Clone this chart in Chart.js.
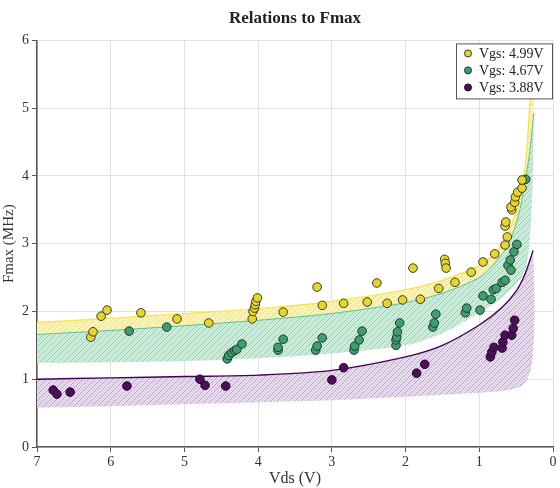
<!DOCTYPE html>
<html>
<head>
<meta charset="utf-8">
<script src="https://cdn.jsdelivr.net/npm/chart.js@4/dist/chart.umd.min.js"></script>
<style>
  html, body { margin: 0; padding: 0; background: #fff; }
</style>
</head>
<body>
<canvas id="fmaxChart" width="560" height="488"></canvas>
<script>
// measured points, [Vds, Fmax]
const pts499 = [
  [6.27, 1.62], [6.24, 1.70], [6.13, 1.93], [6.05, 2.02], [5.59, 1.98], [5.10, 1.89],
  [4.67, 1.83], [4.08, 1.89], [4.07, 2.00], [4.05, 2.05], [4.04, 2.10], [4.03, 2.15],
  [4.01, 2.20], [3.66, 1.99], [3.20, 2.36], [3.13, 2.09], [2.84, 2.12], [2.52, 2.14],
  [2.39, 2.42], [2.25, 2.12], [2.04, 2.17], [1.90, 2.64], [1.80, 2.18], [1.55, 2.34],
  [1.47, 2.77], [1.46, 2.71], [1.45, 2.64], [1.33, 2.43], [1.11, 2.58], [0.95, 2.73],
  [0.79, 2.85], [0.65, 2.98], [0.62, 3.10], [0.65, 3.26], [0.64, 3.32], [0.56, 3.50],
  [0.57, 3.54], [0.52, 3.61], [0.51, 3.69], [0.48, 3.76], [0.42, 3.82], [0.42, 3.94]
];
const pts467 = [
  [5.75, 1.71], [5.24, 1.77], [4.42, 1.30], [4.40, 1.35], [4.36, 1.39], [4.32, 1.42],
  [4.29, 1.44], [4.22, 1.52], [3.73, 1.43], [3.73, 1.47], [3.66, 1.59], [3.22, 1.43],
  [3.20, 1.49], [3.13, 1.61], [2.70, 1.43], [2.69, 1.49], [2.63, 1.58], [2.59, 1.71],
  [2.13, 1.50], [2.13, 1.58], [2.12, 1.62], [2.11, 1.70], [2.08, 1.83], [1.63, 1.77],
  [1.61, 1.83], [1.59, 1.96], [1.19, 1.98], [1.17, 2.05], [0.99, 2.02], [0.95, 2.23],
  [0.84, 2.18], [0.81, 2.32], [0.77, 2.34], [0.69, 2.43], [0.65, 2.46], [0.61, 2.68],
  [0.57, 2.61], [0.58, 2.76], [0.53, 2.88], [0.49, 2.99], [0.37, 3.95]
];
const pts388 = [
  [6.78, 0.84], [6.73, 0.78], [6.55, 0.81], [5.78, 0.90], [4.79, 1.00], [4.72, 0.91],
  [4.44, 0.90], [3.00, 0.99], [2.84, 1.17], [1.85, 1.09], [1.74, 1.22], [0.85, 1.33],
  [0.83, 1.40], [0.80, 1.47], [0.69, 1.46], [0.68, 1.55], [0.65, 1.65], [0.56, 1.65],
  [0.54, 1.75], [0.52, 1.87]
];

// fitted band edges, [Vds, Fmax]
const band499Upper = [
  [7, 1.84], [6, 1.90], [5, 1.97], [4, 2.04], [3, 2.15], [2, 2.32], [1.5, 2.46],
  [1.0, 2.68], [0.72, 2.95], [0.49, 3.50], [0.38, 4.13], [0.34, 4.63], [0.31, 5.12], [0.27, 5.38]
];
const band467Upper = [
  [7, 1.66], [6, 1.72], [5, 1.79], [4, 1.87], [3, 1.97], [2, 2.13], [1.5, 2.27],
  [1.0, 2.50], [0.8, 2.70], [0.6, 3.00], [0.45, 3.50], [0.35, 4.10], [0.3, 4.50], [0.26, 4.93]
];
const band467Lower = [
  [7, 1.24], [6, 1.25], [5, 1.27], [4, 1.31], [3, 1.38], [2, 1.50], [1.5, 1.68],
  [1.0, 1.98], [0.7, 2.20], [0.5, 2.40], [0.38, 2.60], [0.32, 3.00], [0.28, 3.80], [0.26, 4.93]
];
const band388Upper = [
  [7, 1.00], [6, 1.02], [5, 1.04], [4, 1.06], [3, 1.13], [2, 1.33], [1.5, 1.50],
  [1.0, 1.80], [0.7, 2.05], [0.5, 2.30], [0.38, 2.55], [0.3, 2.80], [0.27, 2.90]
];
const band388Lower = [
  [7, 0.58], [6, 0.60], [5, 0.63], [4, 0.66], [3, 0.69], [2, 0.74], [1.5, 0.77],
  [1.0, 0.80], [0.6, 0.84], [0.4, 0.92], [0.33, 1.05], [0.28, 1.28], [0.25, 2.00], [0.27, 2.90]
];

const xTicks = [0, 1, 2, 3, 4, 5, 6, 7];
const yTicks = [0, 1, 2, 3, 4, 5, 6];

const SERIF = '"Liberation Serif", "DejaVu Serif", serif';

const toXY = arr => arr.map(([x, y]) => ({ x, y }));
const shape = (upper, lower) => toXY(upper.concat(lower.slice().reverse()));

// striped fill for the fitted bands
function hatch(bg, line, alt) {
  const c = document.createElement('canvas');
  c.width = 6; c.height = 6;
  const g = c.getContext('2d');
  g.fillStyle = bg;
  g.fillRect(0, 0, 6, 6);
  g.lineWidth = 1;
  g.strokeStyle = line;
  g.beginPath();
  g.moveTo(-1, 7); g.lineTo(7, -1);
  g.stroke();
  if (alt) {
    g.strokeStyle = alt;
    g.beginPath();
    g.moveTo(-1, 4); g.lineTo(4, -1);
    g.moveTo(2, 7); g.lineTo(7, 2);
    g.stroke();
  }
  return g.createPattern(c, 'repeat');
}

function band(upper, lower, pattern) {
  return {
    type: 'line',
    data: shape(upper, lower),
    fill: 'shape',
    backgroundColor: pattern,
    borderWidth: 0,
    pointRadius: 0,
    tension: 0.3,
    order: 3
  };
}

function edge(points, color, width) {
  return {
    type: 'line',
    data: toXY(points),
    borderColor: color,
    borderWidth: width,
    pointRadius: 0,
    fill: false,
    tension: 0.3,
    order: 2
  };
}

function series(label, points, fill, stroke) {
  return {
    type: 'scatter',
    label: label,
    legend: true,
    data: toXY(points),
    backgroundColor: fill,
    borderColor: stroke,
    borderWidth: 1,
    pointRadius: 4.3,
    order: 0
  };
}

// legend box drawn inside the plot, top right
const insideLegend = {
  id: 'insideLegend',
  afterDraw(chart) {
    const ctx = chart.ctx;
    const area = chart.chartArea;
    const items = chart.data.datasets.filter(d => d.legend);
    const w = 96, h = 55;
    const x0 = area.right - w - 1, y0 = area.top + 3;
    ctx.save();
    ctx.fillStyle = '#fff';
    ctx.fillRect(x0, y0, w, h);
    ctx.strokeStyle = '#555';
    ctx.lineWidth = 1;
    ctx.strokeRect(x0 + 0.5, y0 + 0.5, w, h);
    ctx.font = '14px ' + SERIF;
    ctx.textBaseline = 'middle';
    items.forEach((d, i) => {
      const y = y0 + 10 + i * 17;
      ctx.beginPath();
      ctx.arc(x0 + 12, y, 3.5, 0, Math.PI * 2);
      ctx.fillStyle = d.backgroundColor;
      ctx.fill();
      ctx.strokeStyle = d.borderColor;
      ctx.stroke();
      ctx.fillStyle = '#222';
      ctx.fillText(d.label, x0 + 23, y + 1);
    });
    ctx.restore();
  }
};

const ctx = document.getElementById('fmaxChart').getContext('2d');
new Chart(ctx, {
  data: {
    datasets: [
      series('Vgs: 4.99V', pts499, '#e6d62c', '#3a3a2a'),
      series('Vgs: 4.67V', pts467, '#3c9f6d', '#1f3a2c'),
      series('Vgs: 3.88V', pts388, '#4a0f56', '#2a0633'),
      edge(band499Upper, '#f5e447', 1.2),
      edge(band467Upper, '#5cc189', 1),
      edge(band388Upper, '#440154', 1.4),
      band(band499Upper, band467Upper, hatch('#fcf5c0', '#f1e160', '#f8ec94')),
      band(band467Upper, band467Lower, hatch('#d3efe0', '#86d0a6', '#b0e2c8')),
      band(band388Upper, band388Lower, hatch('#ebe0f0', '#b699c6', '#d3bfde'))
    ]
  },
  options: {
    responsive: false,
    animation: false,
    layout: { padding: { top: 0, right: 7, bottom: 0, left: 0 } },
    plugins: {
      legend: { display: false },
      tooltip: { enabled: false },
      title: {
        display: true,
        text: 'Relations to Fmax',
        fullSize: false,
        color: '#222',
        font: { family: SERIF, size: 17, weight: 'bold' },
        padding: { top: 8, bottom: 12 }
      }
    },
    scales: {
      x: {
        type: 'linear',
        reverse: true,
        min: 0,
        max: 7,
        afterBuildTicks: scale => { scale.ticks = xTicks.map(v => ({ value: v })); },
        afterFit: scale => { scale.height = 41; },
        grid: { color: '#e2e2e2', tickColor: '#555', tickLength: 5 },
        border: { color: '#555', width: 1.5 },
        ticks: { color: '#333', font: { family: SERIF, size: 14 }, padding: 2 },
        title: {
          display: true,
          text: 'Vds (V)',
          color: '#333',
          font: { family: SERIF, size: 16 },
          padding: { top: 0, bottom: 0 }
        }
      },
      y: {
        type: 'linear',
        min: 0,
        max: 6,
        afterBuildTicks: scale => { scale.ticks = yTicks.map(v => ({ value: v })); },
        afterFit: scale => { scale.width = 37; },
        grid: { color: '#e2e2e2', tickColor: '#555', tickLength: 5 },
        border: { color: '#555', width: 1.5 },
        ticks: { color: '#333', font: { family: SERIF, size: 14 }, padding: 3 },
        title: {
          display: true,
          text: 'Fmax (MHz)',
          color: '#333',
          font: { family: SERIF, size: 15 },
          padding: { top: 0, bottom: 1 }
        }
      }
    }
  },
  plugins: [insideLegend]
});
</script>
</body>
</html>
